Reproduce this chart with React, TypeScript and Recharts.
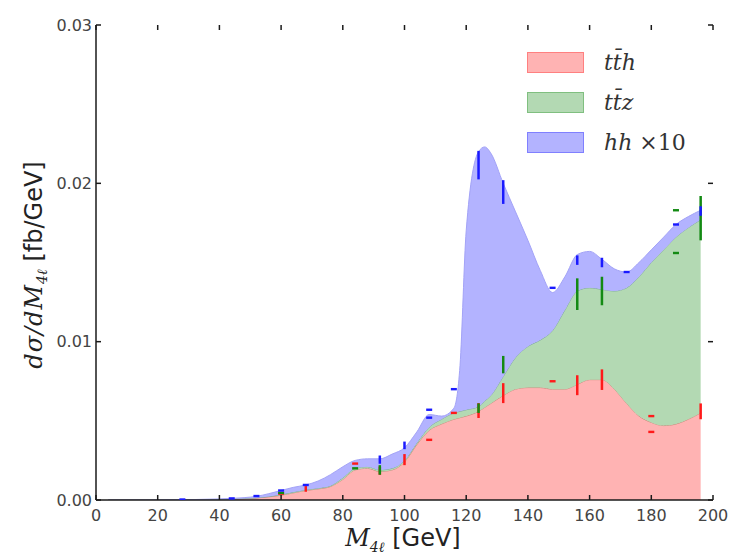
import React from 'react';
import { ComposedChart, Area, Scatter, ErrorBar, XAxis, YAxis } from 'recharts';

// Four-lepton invariant mass grid (GeV) for the smoothed distributions
const massBins = [
  4, 8, 12, 16, 20, 24, 28, 32, 36, 40, 44, 48, 52, 56, 60, 64, 68, 72, 76, 80,
  84, 88, 92, 96, 100, 104, 108, 112, 116, 118, 120, 124, 126, 128, 132, 136,
  140, 144, 148, 152, 156, 160, 164, 168, 172, 176, 180, 184, 188, 192, 196,
];

// dσ/dM4l in fb/GeV, per process (stacked when drawn)
const ttH = [
  0, 0, 0, 0, 0, 0, 0, 0, 0.00002, 0.00003, 0.00005, 0.00008, 0.00013, 0.0002,
  0.0003, 0.00045, 0.0006, 0.0007, 0.00085, 0.0013, 0.0019, 0.002, 0.0018,
  0.0019, 0.0024, 0.0035, 0.0044, 0.0048, 0.0051, 0.0052, 0.0053, 0.0056,
  0.00585, 0.0061, 0.0066, 0.007, 0.0071, 0.0071, 0.007, 0.007, 0.0073, 0.0076,
  0.0076, 0.007, 0.0061, 0.0053, 0.0049, 0.0047, 0.0048, 0.0051, 0.0055,
];
const ttZ = [
  0, 0, 0, 0, 0, 0, 0, 0, 0, 0, 0, 0.00001, 0.00001, 0.00002, 0.00005, 0.00005,
  0.00005, 0.00005, 0.00005, 0.0001, 0.0001, 0.0001, 0.0001, 0.0001, 0.0001,
  0.0001, 0.0002, 0.0003, 0.0004, 0.0004, 0.0004, 0.0003, 0.0004, 0.0005,
  0.0012, 0.002, 0.0026, 0.003, 0.0037, 0.005, 0.0059, 0.0058, 0.0057, 0.0062,
  0.0073, 0.0088, 0.0101, 0.0111, 0.0118, 0.0121, 0.0122,
];
const hhX10 = [
  0, 0, 0, 0, 0, 0.00001, 0.00002, 0.00003, 0.00003, 0.00004, 0.00005, 0.00006,
  0.00009, 0.00018, 0.00025, 0.0003, 0.0003, 0.00045, 0.0007, 0.0007, 0.0005,
  0.0005, 0.0007, 0.0009, 0.0008, 0.0007, 0.0008, 0.0002, 0.0003, 0.0029,
  0.0113, 0.0161, 0.01605, 0.0153, 0.0122, 0.0092, 0.0067, 0.0044, 0.0024,
  0.0021, 0.0023, 0.0023, 0.0019, 0.0014, 0.001, 0.0009, 0.0008, 0.0008,
  0.0008, 0.0007, 0.0006,
];

// Simulated bin values [mass, stacked height, error]; error 0 = marker only
const ttHPoints: [number, number, number][] = [
  [60, 0.0004, 0], [68, 0.0007, 0.00018], [84, 0.0023, 0], [92, 0.00185, 0.00026],
  [100, 0.00255, 0.00035], [108, 0.0038, 0], [116, 0.0055, 0], [124, 0.00565, 0.00047],
  [132, 0.00675, 0.00063], [148, 0.0075, 0], [156, 0.00725, 0.00063],
  [164, 0.0076, 0.00065], [180, 0.0053, 0], [180, 0.0043, 0], [196, 0.0056, 0.0005],
];
const ttZPoints: [number, number, number][] = [
  [60, 0.00045, 0], [84, 0.002, 0], [92, 0.0019, 0.0003], [124, 0.0058, 0.0003],
  [132, 0.00855, 0.00055], [156, 0.013, 0.001], [164, 0.0132, 0.0009],
  [188, 0.0183, 0], [188, 0.0156, 0], [196, 0.0178, 0.0014],
];
const hhPoints: [number, number, number][] = [
  [28, 0.00003, 0], [44, 0.0001, 0], [52, 0.00025, 0], [60, 0.0006, 0],
  [68, 0.00095, 0], [92, 0.00255, 0.00026], [100, 0.00345, 0.00024],
  [108, 0.0057, 0], [108, 0.0052, 0], [116, 0.007, 0], [124, 0.02115, 0.0009],
  [132, 0.01945, 0.00075], [148, 0.0134, 0], [156, 0.01515, 0.0003],
  [164, 0.015, 0.0003], [172, 0.0144, 0], [188, 0.0174, 0], [196, 0.01825, 0.0003],
];

const xTicks = [0, 20, 40, 60, 80, 100, 120, 140, 160, 180, 200];
const yTicks = [0, 0.01, 0.02, 0.03];
const X_DOMAIN: [number, number] = [0, 200];
const Y_DOMAIN: [number, number] = [0, 0.03];

const RED_FILL = '#ffb3b3';
const GREEN_FILL = '#b3d9b3';
const BLUE_FILL = '#b3b3ff';
const RED = '#ff1a1a';
const GREEN = '#138a13';
const BLUE = '#1a1aff';

const TICK_FONT = "'DejaVu Sans', sans-serif";
const MATH_FONT = "'DejaVu Serif', serif";
const AXIS = '#1a1a1a';

// Layout of the chart and its plotting frame
const CHART_W = 730;
const CHART_H = 557;
const MARGIN = { top: 25, right: 17, bottom: 0, left: 0 };
const Y_AXIS_W = 96;
const X_AXIS_H = 57;
const FRAME_L = MARGIN.left + Y_AXIS_W;
const FRAME_R = CHART_W - MARGIN.right;
const FRAME_T = MARGIN.top;
const FRAME_B = CHART_H - MARGIN.bottom - X_AXIS_H;
const TICK_LEN = 5;

// Linear maps of the axis ranges onto the frame, for the inward frame ticks
const frameX = (m: number) => FRAME_L + ((m - X_DOMAIN[0]) / (X_DOMAIN[1] - X_DOMAIN[0])) * (FRAME_R - FRAME_L);
const frameY = (v: number) => FRAME_B - ((v - Y_DOMAIN[0]) / (Y_DOMAIN[1] - Y_DOMAIN[0])) * (FRAME_B - FRAME_T);

const curveData = massBins.map((m, i) => ({ m, tth: ttH[i], ttz: ttZ[i], hh: hhX10[i] }));
const toRows = (pts: [number, number, number][]) => pts.map(([m, y, err]) => ({ m, y, err }));

const LeftLabel = (props: any) => {
  const { x, y, payload } = props;
  return (
    <text x={x - 4} y={y} dy="0.36em" textAnchor="end" fontSize={16} fill="#444" fontFamily={TICK_FONT}>
      {Number(payload.value).toFixed(2)}
    </text>
  );
};
const BottomLabel = (props: any) => {
  const { x, y, payload } = props;
  return (
    <text x={x} y={y + 21} textAnchor="middle" fontSize={16} fill="#444" fontFamily={TICK_FONT}>
      {payload.value}
    </text>
  );
};
const NoLabel = () => <g />;

// Points with an error bar show only the bar; the rest get a short dash
const marker = (color: string) => (props: any) => {
  const { cx, cy, payload } = props;
  if (payload && payload.err > 0) return <g />;
  return <rect x={cx - 3} y={cy - 1.2} width={6} height={2.4} fill={color} />;
};

const legendItems = [
  { fill: RED_FILL, edge: '#ff8080', label: <><i>t</i><i>t̄</i><i>h</i></> },
  { fill: GREEN_FILL, edge: '#80bf80', label: <><i>t</i><i>t̄</i><i>z</i></> },
  { fill: BLUE_FILL, edge: '#8080ff', label: <><i>hh</i> ×10</> },
];

function FrameTicks() {
  const lines: React.ReactNode[] = [];
  xTicks.forEach((t) => {
    const x = frameX(t);
    lines.push(<line key={`b${t}`} x1={x} y1={FRAME_B} x2={x} y2={FRAME_B - TICK_LEN} />);
    lines.push(<line key={`t${t}`} x1={x} y1={FRAME_T} x2={x} y2={FRAME_T + TICK_LEN} />);
  });
  yTicks.forEach((t) => {
    const y = frameY(t);
    lines.push(<line key={`l${t}`} x1={FRAME_L} y1={y} x2={FRAME_L + TICK_LEN} y2={y} />);
    lines.push(<line key={`r${t}`} x1={FRAME_R} y1={y} x2={FRAME_R - TICK_LEN} y2={y} />);
  });
  return (
    <svg width={CHART_W} height={CHART_H} style={{ position: 'absolute', left: 0, top: 0, pointerEvents: 'none' }}>
      <g stroke={AXIS} strokeWidth={1.5}>{lines}</g>
    </svg>
  );
}

export default function App() {
  return (
    <div style={{ position: 'absolute', left: 0, top: 0, width: CHART_W, height: CHART_H, background: '#fff' }}>
      <ComposedChart width={CHART_W} height={CHART_H} data={curveData} margin={MARGIN}>
        <XAxis
          xAxisId="bottom"
          dataKey="m"
          type="number"
          domain={X_DOMAIN}
          ticks={xTicks}
          interval={0}
          allowDataOverflow
          height={X_AXIS_H}
          tickSize={0}
          tickMargin={0}
          tickLine={false}
          tick={<BottomLabel />}
          axisLine={{ stroke: AXIS, strokeWidth: 1.5 }}
        />
        <XAxis
          xAxisId="top"
          orientation="top"
          dataKey="m"
          type="number"
          domain={X_DOMAIN}
          ticks={xTicks}
          allowDataOverflow
          height={0}
          tickSize={0}
          tickLine={false}
          tick={<NoLabel />}
          axisLine={{ stroke: '#555', strokeWidth: 1.5 }}
        />
        <YAxis
          yAxisId="left"
          type="number"
          domain={Y_DOMAIN}
          ticks={yTicks}
          interval={0}
          allowDataOverflow
          width={Y_AXIS_W}
          tickSize={0}
          tickMargin={0}
          tickLine={false}
          tick={<LeftLabel />}
          axisLine={{ stroke: AXIS, strokeWidth: 1.5 }}
        />
        <YAxis
          yAxisId="right"
          orientation="right"
          type="number"
          domain={Y_DOMAIN}
          ticks={yTicks}
          allowDataOverflow
          width={0}
          tickSize={0}
          tickLine={false}
          tick={<NoLabel />}
          axisLine={{ stroke: '#444', strokeWidth: 2 }}
        />

        <Area
          xAxisId="bottom"
          yAxisId="left"
          type="monotone"
          dataKey="tth"
          stackId="s"
          fill={RED_FILL}
          fillOpacity={1}
          stroke="#c98a7a"
          strokeWidth={1}
          dot={false}
          activeDot={false}
          isAnimationActive={false}
        />
        <Area
          xAxisId="bottom"
          yAxisId="left"
          type="monotone"
          dataKey="ttz"
          stackId="s"
          fill={GREEN_FILL}
          fillOpacity={1}
          stroke="#7fa9a0"
          strokeWidth={1}
          dot={false}
          activeDot={false}
          isAnimationActive={false}
        />
        <Area
          xAxisId="bottom"
          yAxisId="left"
          type="monotone"
          dataKey="hh"
          stackId="s"
          fill={BLUE_FILL}
          fillOpacity={1}
          stroke="#a3a3f7"
          strokeWidth={1}
          dot={false}
          activeDot={false}
          isAnimationActive={false}
        />

        <Scatter
          xAxisId="bottom"
          yAxisId="left"
          data={toRows(ttHPoints)}
          dataKey="y"
          shape={marker(RED)}
          isAnimationActive={false}
        >
          <ErrorBar dataKey="err" direction="y" width={0} stroke={RED} strokeWidth={2.5} />
        </Scatter>
        <Scatter
          xAxisId="bottom"
          yAxisId="left"
          data={toRows(ttZPoints)}
          dataKey="y"
          shape={marker(GREEN)}
          isAnimationActive={false}
        >
          <ErrorBar dataKey="err" direction="y" width={0} stroke={GREEN} strokeWidth={2.5} />
        </Scatter>
        <Scatter
          xAxisId="bottom"
          yAxisId="left"
          data={toRows(hhPoints)}
          dataKey="y"
          shape={marker(BLUE)}
          isAnimationActive={false}
        >
          <ErrorBar dataKey="err" direction="y" width={0} stroke={BLUE} strokeWidth={2.5} />
        </Scatter>
      </ComposedChart>

      {/* inward ticks on all four sides of the frame */}
      <FrameTicks />

      {/* legend */}
      {legendItems.map((it, i) => (
        <div key={i} style={{ position: 'absolute', left: 527, top: 52 + i * 40, height: 21, display: 'flex', alignItems: 'center' }}>
          <div style={{ width: 55, height: 19, background: it.fill, border: `1px solid ${it.edge}` }} />
          <div style={{ marginLeft: 20, fontFamily: MATH_FONT, fontSize: 22, color: '#333', whiteSpace: 'nowrap', lineHeight: '21px' }}>
            {it.label}
          </div>
        </div>
      ))}

      {/* x-axis title */}
      <div style={{ position: 'absolute', left: 403, top: 523, transform: 'translateX(-50%)', whiteSpace: 'nowrap', color: '#222', fontSize: 24, lineHeight: '30px' }}>
        <span style={{ fontFamily: MATH_FONT, fontStyle: 'italic' }}>M</span>
        <sub style={{ fontFamily: MATH_FONT, fontStyle: 'italic', fontSize: 14 }}>4ℓ</sub>
        <span style={{ fontFamily: TICK_FONT }}> [GeV]</span>
      </div>

      {/* y-axis title */}
      <div style={{ position: 'absolute', left: 38, top: 265, transform: 'translate(-50%, -50%) rotate(-90deg)', whiteSpace: 'nowrap', color: '#222', fontSize: 24, lineHeight: '28px' }}>
        <span style={{ fontFamily: MATH_FONT, fontStyle: 'italic', letterSpacing: 1 }}>dσ/dM</span>
        <sub style={{ fontFamily: MATH_FONT, fontStyle: 'italic', fontSize: 14 }}>4ℓ</sub>
        <span style={{ fontFamily: TICK_FONT }}> [fb/GeV]</span>
      </div>
    </div>
  );
}
